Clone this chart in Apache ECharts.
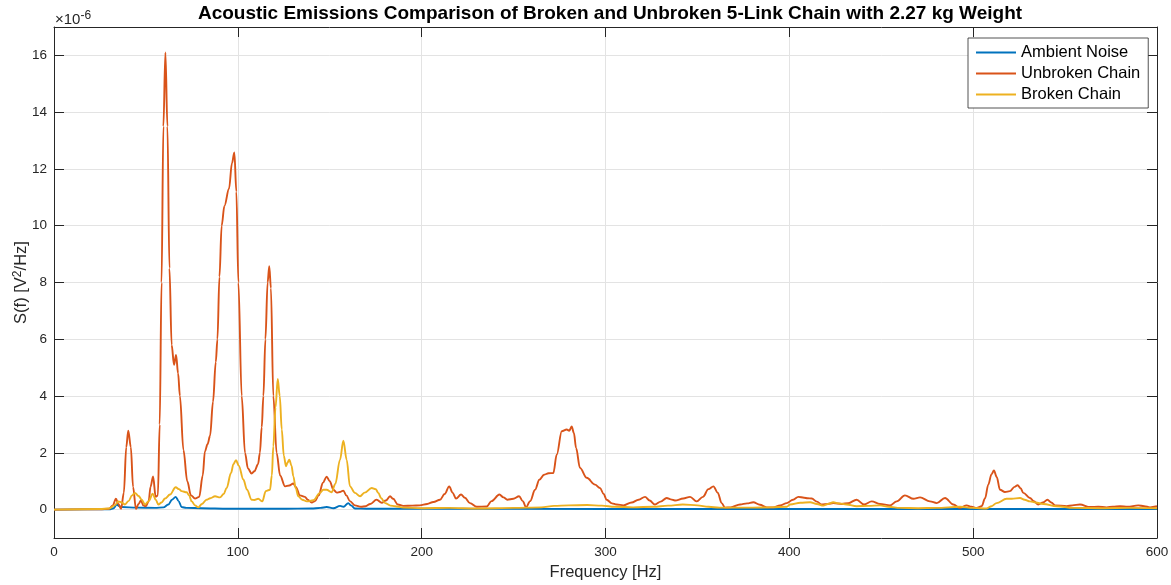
<!DOCTYPE html>
<html>
<head>
<meta charset="utf-8">
<title>Acoustic Emissions Comparison</title>
<script src="https://cdn.jsdelivr.net/npm/echarts@6/dist/echarts.min.js"></script>
<style>
  html, body { margin: 0; padding: 0; background: #ffffff; }
  #chart { width: 1171px; height: 585px; }
</style>
</head>
<body>
<div id="chart"></div>
<script>
// Power spectral density S(f), in units of 1e-6 V^2/Hz, sampled in frequency (Hz)

const seriesNames = ['Ambient Noise', 'Unbroken Chain', 'Broken Chain'];
const seriesColors = ['#0072BD', '#D95319', '#EDB120'];

const xTicks = [0, 100, 200, 300, 400, 500, 600];
const yTicks = [0, 2, 4, 6, 8, 10, 12, 14, 16];

const ambientFreq = [0, 30, 32.5, 34.1, 35.5, 36.8, 45, 55, 59.5, 62.2, 64.2, 66.2, 67.8, 69.4, 72, 80, 95,
  110, 125, 140, 145, 148.3, 152, 155.6, 157.5, 160.1, 161.5, 163.7, 170, 200, 300, 400, 500, 600];
const ambientVal = [0, 0.01, 0.05, 0.18, 0.12, 0.09, 0.07, 0.06, 0.08, 0.18, 0.35, 0.45, 0.3, 0.09, 0.06, 0.05, 0.03,
  0.03, 0.03, 0.04, 0.06, 0.09, 0.05, 0.13, 0.1, 0.23, 0.15, 0.04, 0.03, 0.03, 0.02, 0.02, 0.02, 0.02];

const unbrokenFreq = [0, 25, 30, 32, 33.7, 35, 36.5, 38, 39.3, 40.4, 41.8, 43, 44.6, 46, 47.3, 48.6, 50, 51.5,
  52.5, 53.9, 55.3, 56.5, 57.5, 58.5, 59.5, 60.6, 61.7, 62.8, 64, 65.3, 66.4, 67.5, 68.5, 70.4, 72.5, 74.5,
  76.7, 79, 80.9, 82.1, 83.5, 84.9, 86.5, 88, 88.9, 90, 91.2, 92.7, 95.2, 96.8, 98.1, 99.2, 100.3, 102.1,
  103.9, 105.5, 107.5, 109, 111, 112, 113, 113.9, 115, 116.2, 117.1, 118, 119.3, 121.1, 123, 125.7, 128,
  130.2, 131.5, 133.8, 136.5, 138, 140.2, 142, 144, 146.3, 148.3, 150, 152, 153.8, 155.5, 157.4, 159, 161,
  163.7, 167, 169.5, 172, 175.5, 178.3, 180.5, 182.8, 184.5, 187, 190, 195, 199, 203, 206.4, 210, 212.5,
  215, 216.8, 218.7, 221.4, 223.5, 226.3, 230, 235.4, 238, 242.3, 244.5, 246.6, 249.9, 253, 255, 256.8,
  259, 261.7, 264, 266.6, 269, 271.6, 273.5, 276.2, 278.9, 280.3, 281.6, 282.8, 284, 286.1, 289.8, 294.3,
  297, 299, 300.6, 303.5, 306.1, 309.7, 314.2, 318, 321.5, 324, 326.9, 330, 333.3, 335.5, 337.8, 342.3,
  346, 349.6, 353, 356, 358.7, 361, 363.2, 365, 368, 373.2, 377, 380.4, 384, 387.7, 391.3, 395, 398.6,
  402, 404.9, 408, 410, 412.2, 415, 417.6, 421, 423.9, 428.5, 432.1, 436.6, 440.6, 444.8, 449.3, 454.8,
  458.4, 462.9, 467.5, 471.1, 476.5, 480.2, 484.7, 489.2, 492.8, 496.5, 499, 501.9, 504.6, 506.5, 508.2,
  510, 511.3, 512.8, 514.6, 517.3, 520, 522.5, 524.2, 525.8, 527.3, 530.9, 533, 535.4, 538, 540.4, 542.5,
  544.5, 550.9, 554, 558.1, 563.6, 568, 572.6, 576, 579.9, 584, 589.8, 593, 596.2, 600];
const unbrokenVal = [0, 0.01, 0.03, 0.15, 0.38, 0.2, 0.03, 0.6, 2.2, 2.78, 2.2, 0.8, 0.02, 0.2, 0.32, 0.15, 0.12, 0.3,
  0.8, 1.17, 0.45, 0.5, 3, 8, 13.5, 16.1, 13.5, 8.5, 5.8, 5.1, 5.45, 4.8, 4.0, 2.1, 1.0, 0.5,
  0.39, 0.45, 1.2, 2.05, 2.3, 2.6, 3.8, 5.2, 6, 8.2, 10, 10.7, 11.3, 12.2, 12.58, 11.2, 8.0, 4.0,
  2.0, 1.45, 1.27, 1.35, 1.6, 2.0, 2.9, 4, 6, 8, 8.57, 7.8, 4, 2, 1.2, 0.82, 0.85,
  0.92, 0.8, 0.5, 0.45, 0.35, 0.25, 0.3, 0.5, 0.95, 1.16, 1.0, 0.7, 0.6, 0.62, 0.67, 0.5, 0.3,
  0.15, 0.1, 0.12, 0.2, 0.35, 0.24, 0.32, 0.47, 0.38, 0.18, 0.13, 0.14, 0.15, 0.2, 0.27, 0.35, 0.55,
  0.82, 0.6, 0.39, 0.53, 0.42, 0.23, 0.1, 0.11, 0.3, 0.53, 0.43, 0.35, 0.38, 0.47, 0.3, 0.08,
  0.3, 0.7, 1.05, 1.23, 1.28, 1.29, 1.94, 2.76, 2.82, 2.78, 2.93, 2.7, 2.17, 1.47, 1.12, 0.88,
  0.76, 0.55, 0.35, 0.22, 0.18, 0.15, 0.25, 0.35, 0.45, 0.32, 0.18, 0.28, 0.41, 0.36, 0.32, 0.39,
  0.45, 0.29, 0.45, 0.72, 0.82, 0.6, 0.23, 0.07, 0.08, 0.18, 0.22, 0.26, 0.17, 0.08, 0.08, 0.15, 0.23,
  0.35, 0.45, 0.42, 0.4, 0.39, 0.28, 0.18, 0.2, 0.23, 0.2, 0.23, 0.35, 0.18, 0.29, 0.2, 0.15,
  0.29, 0.5, 0.38, 0.43, 0.29, 0.23, 0.41, 0.18, 0.06, 0.15, 0.1, 0.06, 0.12, 0.4, 0.88,
  1.25, 1.38, 1.15, 0.7, 0.62, 0.65, 0.8, 0.86, 0.75, 0.59, 0.41, 0.3, 0.18, 0.25, 0.35, 0.25,
  0.15, 0.12, 0.15, 0.18, 0.09, 0.1, 0.08, 0.1, 0.12, 0.1, 0.15, 0.12, 0.08, 0.12];

const brokenFreq = [0, 25, 30, 33, 35, 36.8, 38.6, 40.5, 42.5, 44, 46, 47.7, 49.5, 51.5, 53.7, 55.3, 56.8, 58.5,
  60.4, 63.1, 66.2, 68, 69.4, 72.2, 73.5, 74.9, 76.7, 78.5, 80.5, 83, 85, 87.6, 90.3, 92.3, 93.9, 96.3,
  97.6, 99, 100.5, 103, 105, 107.5, 109, 111.1, 113.3, 115.2, 117.5, 118.5, 119.3, 120.5, 121.7, 122.8,
  123.9, 125, 126.2, 127, 128, 129.2, 130.2, 131.5, 132.9, 135, 137.5, 141.1, 144.7, 146.5, 148.3, 151,
  153, 155.6, 157.4, 159.2, 161, 163.7, 166.5, 169, 172.8, 175, 176.4, 178, 180.1, 183, 185.5, 190, 200,
  215, 230, 250, 265, 272, 280, 290, 298, 305, 315, 326, 334, 342, 350, 356, 362, 380, 390, 398.6, 400.4,
  406, 411.3, 415, 418.5, 421, 423.9, 427, 431.2, 436.6, 443, 449.3, 454, 460.2, 470, 480, 492.8, 500,
  507.3, 510, 512.7, 518.2, 521, 525.5, 528, 530.9, 534, 538.2, 545.4, 554.5, 570, 585, 600];
const brokenVal = [0, 0.02, 0.04, 0.15, 0.29, 0.25, 0.18, 0.3, 0.5, 0.59, 0.48, 0.35, 0.18, 0.3, 0.56, 0.35, 0.18, 0.25,
  0.39, 0.53, 0.79, 0.72, 0.65, 0.61, 0.5, 0.29, 0.15, 0.08, 0.2, 0.35, 0.4, 0.47, 0.43, 0.55, 0.76, 1.29,
  1.6, 1.74, 1.55, 1.06, 0.7, 0.35, 0.34, 0.38, 0.29, 0.65, 0.7, 1.2, 2.23, 3.6, 4.6, 4.0,
  2.82, 1.9, 1.53, 1.65, 1.76, 1.55, 1.17, 0.75, 0.47, 0.35, 0.29, 0.33, 0.59, 0.7, 0.7, 0.61,
  0.9, 1.76, 2.43, 1.76, 0.82, 0.59, 0.47, 0.6, 0.76, 0.72, 0.59, 0.4, 0.23, 0.14, 0.12, 0.07, 0.05,
  0.06, 0.04, 0.06, 0.08, 0.13, 0.15, 0.16, 0.14, 0.1, 0.08, 0.1, 0.14, 0.18, 0.15, 0.1, 0.07, 0.07, 0.08, 0.1, 0.18,
  0.24, 0.26, 0.2, 0.14, 0.2, 0.26, 0.22, 0.18, 0.12, 0.13, 0.15, 0.1, 0.06, 0.05, 0.06, 0.1, 0.06,
  0.04, 0.12, 0.23, 0.38, 0.38, 0.41, 0.35, 0.29, 0.25, 0.2, 0.12, 0.06, 0.05, 0.06, 0.05];

function pairs(freq, val) {
  return freq.map((f, i) => [f, val[i]]);
}

const FONT = '"Liberation Sans", Arial, Helvetica, sans-serif';
const INK = '#262626';
const GRID = '#e3e3e3';

const chart = echarts.init(document.getElementById('chart'), null, { renderer: 'canvas' });

const valueRange = { min: -1, max: 17 };
const freqRange = { min: 0, max: 600 };

function makeSeries(idx, freq, val) {
  return {
    name: seriesNames[idx],
    type: 'line',
    data: pairs(freq, val),
    showSymbol: false,
    smooth: 0.35,
    smoothMonotone: 'x',
    lineStyle: { color: seriesColors[idx], width: 1.9 },
    itemStyle: { color: seriesColors[idx] },
    emphasis: { disabled: true },
    silent: true,
    animation: false,
    z: 2 + idx
  };
}

chart.setOption({
  animation: false,
  backgroundColor: '#ffffff',
  textStyle: { fontFamily: FONT },
  title: {
    text: 'Acoustic Emissions Comparison of Broken and Unbroken 5-Link Chain with 2.27 kg Weight',
    left: 605,
    textAlign: 'center',
    top: -1,
    textStyle: { fontFamily: FONT, fontSize: 19, fontWeight: 'bold', color: '#000000' }
  },
  legend: {
    data: seriesNames,
    orient: 'vertical',
    left: 968,
    top: 38,
    padding: [6, 8, 5, 8],
    itemGap: 4,
    itemWidth: 40,
    itemHeight: 2,
    icon: 'rect',
    backgroundColor: '#ffffff',
    borderColor: INK,
    borderWidth: 0.8,
    borderRadius: 0,
    textStyle: { fontFamily: FONT, fontSize: 16.5, color: '#000000', padding: [0, 0, 0, 0] }
  },
  grid: { left: 54, right: 14, top: 27, bottom: 47, containLabel: false, outerBoundsMode: 'none' },
  graphic: [{
    type: 'text',
    left: 55,
    top: 10,
    style: {
      text: '×10{s|-6}',
      rich: { s: { fontSize: 12, verticalAlign: 'top', fill: INK, fontFamily: FONT, padding: [0, 0, 7, 0] } },
      fontSize: 15,
      fontFamily: FONT,
      fill: INK
    }
  }],
  xAxis: [{
    type: 'value',
    ...freqRange,
    interval: 100,
    position: 'bottom',
    name: 'Frequency [Hz]',
    nameLocation: 'middle',
    nameGap: 26,
    nameMoveOverlap: false,
    nameTextStyle: { fontFamily: FONT, fontSize: 16.5, color: INK },
    axisLine: { show: true, onZero: false, lineStyle: { color: INK, width: 1 } },
    axisTick: { show: true, inside: true, length: 10, lineStyle: { color: INK } },
    axisLabel: { fontFamily: FONT, fontSize: 13.5, color: INK, margin: 7, customValues: xTicks },
    splitLine: { show: true, lineStyle: { color: GRID, width: 1 } }
  }, {
    type: 'value',
    ...freqRange,
    interval: 100,
    position: 'top',
    axisLine: { show: true, onZero: false, lineStyle: { color: INK, width: 1 } },
    axisTick: { show: true, inside: true, length: 10, lineStyle: { color: INK } },
    axisLabel: { show: false },
    splitLine: { show: false }
  }],
  yAxis: [{
    type: 'value',
    ...valueRange,
    position: 'left',
    name: 'S(f) [V{sup|2}/Hz]',
    nameLocation: 'middle',
    nameGap: 23,
    nameMoveOverlap: false,
    nameRotate: 90,
    nameTextStyle: {
      fontFamily: FONT, fontSize: 16.5, color: INK,
      rich: { sup: { fontFamily: FONT, fontSize: 12, color: INK, verticalAlign: 'top', padding: [0, 0, 7, 0] } }
    },
    axisLine: { show: true, onZero: false, lineStyle: { color: INK, width: 1 } },
    axisTick: { show: true, inside: true, length: 10, lineStyle: { color: INK }, customValues: yTicks },
    axisLabel: { fontFamily: FONT, fontSize: 13.5, color: INK, margin: 7, customValues: yTicks },
    splitLine: { show: true, lineStyle: { color: GRID, width: 1 } }
  }, {
    type: 'value',
    ...valueRange,
    position: 'right',
    axisLine: { show: true, onZero: false, lineStyle: { color: INK, width: 1 } },
    axisTick: { show: true, inside: true, length: 10, lineStyle: { color: INK }, customValues: yTicks },
    axisLabel: { show: false },
    splitLine: { show: false }
  }],
  series: [
    makeSeries(0, ambientFreq, ambientVal),
    makeSeries(1, unbrokenFreq, unbrokenVal),
    makeSeries(2, brokenFreq, brokenVal)
  ]
});
</script>
</body>
</html>
